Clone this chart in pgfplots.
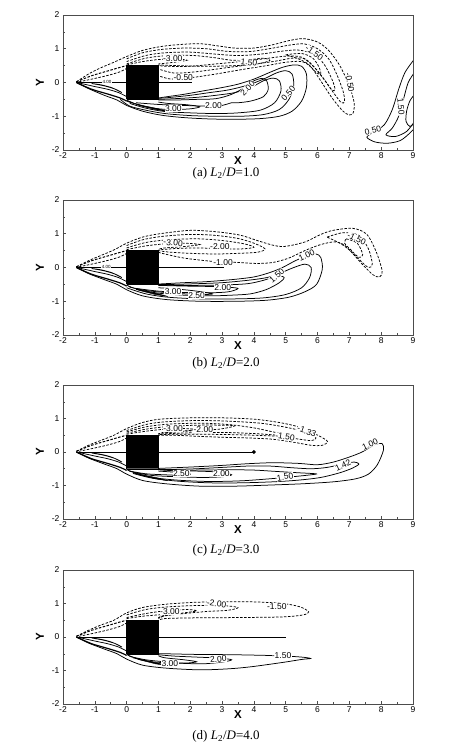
\documentclass[border=0pt]{standalone}
\usepackage{fontspec}
\setmainfont{Liberation Serif}
\newfontfamily\arial{Liberation Sans}
\usepackage{pgfplots}
\pgfplotsset{compat=1.18}
\tikzset{
  sol/.style={black, line width=0.75pt, smooth, mark=none},
  das/.style={black, line width=0.75pt, smooth, mark=none, dash pattern=on 2.5pt off 1.5pt},
  lab/.style={font=\arial\fontsize{8.5}{8.5}\selectfont, fill=white, inner sep=0.4pt},
}
\pgfplotsset{
  panel/.style={
    width=350pt, height=135pt, scale only axis,
    xmin=-2, xmax=9, ymin=-2, ymax=2,
    xtick={-2,-1,0,1,2,3,4,5,6,7,8,9}, ytick={-2,-1,0,1,2},
    minor x tick num=1, minor y tick num=1,
    tick align=inside, xtick pos=bottom, ytick pos=left,
    major tick length=3pt, minor tick length=2pt,
    axis line style={black!70, line width=0.6pt},
    tick style={black!70, line width=0.5pt},
    ticklabel style={font=\arial\fontsize{8.5}{9}\selectfont},
    /pgf/number format/assume math mode=true,
    xticklabel style={yshift=1pt},
    xlabel={X}, ylabel={Y},
    xlabel style={at={(axis description cs:0.5,0)}, anchor=center, yshift=-11pt, font=\arial\bfseries\fontsize{11.5}{12}\selectfont},
    ylabel style={at={(axis description cs:0,0.5)}, anchor=center, yshift=23pt, font=\arial\bfseries\fontsize{11.5}{12}\selectfont},
    anchor=south west,
  },
}
\newcommand{\capfont}{\fontsize{13}{14}\selectfont}
\begin{document}
\begin{tikzpicture}
\path[use as bounding box] (0,0) rectangle (456pt,748pt);

% ================= (a) =================
\begin{axis}[panel, at={(63pt,598pt)}]
% front
\addplot[black, line width=0.6pt] coordinates {(-1.55,0)(0,0)};
\addplot[sol, line width=1.2pt] coordinates {(-1.58,0)(-1.1,-0.2)(-0.6,-0.34)(-0.2,-0.46)(0,-0.55)};
\addplot[sol] coordinates {(-1.52,-0.01)(-1.0,-0.12)(-0.6,-0.2)(-0.25,-0.3)(0,-0.42)};
\addplot[sol] coordinates {(-1.1,-0.03)(-0.7,-0.1)(-0.35,-0.2)(-0.15,-0.3)(-0.45,-0.16)(-0.8,-0.07)(-1.1,-0.03)};
\addplot[das, line width=1pt] coordinates {(-1.58,0.02)(-1.1,0.2)(-0.6,0.34)(-0.2,0.45)(0,0.5)};
\addplot[das] coordinates {(-1.5,0.02)(-1.0,0.12)(-0.55,0.22)(-0.2,0.32)(0,0.42)};
% dashed (negative)
\addplot[das] coordinates {(-1.58,0.02)(-1.2,0.25)(-0.85,0.42)(-0.4,0.6)(0,0.77)(0.5,0.95)(1.04,1.06)(1.6,1.12)(2.3,1.15)(2.9,1.08)(3.4,1.02)(4.0,1.02)(4.6,1.12)(5.1,1.24)(5.55,1.3)(6.0,1.2)(6.35,0.95)(6.7,0.5)(7.0,-0.1)(7.15,-0.6)(7.12,-0.9)(7.0,-0.96)(6.8,-0.85)(6.45,-0.45)(6.1,0.05)(5.8,0.45)(5.5,0.62)(5.0,0.6)(4.4,0.5)(3.6,0.38)(2.8,0.25)(2.0,0.14)(1.4,0.1)(1.0,0.2)};
\addplot[das] coordinates {(0,0.7)(0.5,0.88)(1.1,0.98)(1.8,1.02)(2.5,1.0)(3.2,0.92)(3.9,0.92)(4.6,1.02)(5.2,1.12)(5.6,1.14)(6.0,1.0)(6.35,0.7)(6.6,0.25)(6.8,-0.25)(6.85,-0.55)(6.75,-0.6)(6.5,-0.3)(6.2,0.1)(5.9,0.45)(5.6,0.7)(5.2,0.72)(4.6,0.62)(3.8,0.52)(3.0,0.42)(2.2,0.32)(1.5,0.28)(1.0,0.4)};
\addplot[das] coordinates {(0,0.62)(0.6,0.8)(1.2,0.88)(2.0,0.9)(2.8,0.84)(3.5,0.8)(4.2,0.84)(4.9,0.93)(5.4,0.96)(5.85,0.85)(6.2,0.55)(6.45,0.1)(6.55,-0.2)(6.45,-0.22)(6.2,0.1)(5.9,0.45)(5.5,0.75)(5.0,0.78)(4.3,0.7)(3.6,0.62)(2.8,0.55)(2.0,0.48)(1.3,0.48)(1.0,0.5)};
\addplot[das] coordinates {(0,0.55)(0.6,0.72)(1.3,0.8)(2.1,0.8)(2.8,0.73)(3.3,0.66)(3.9,0.68)(4.3,0.72)(4.5,0.65)(4.1,0.55)(3.4,0.5)(2.5,0.48)(1.6,0.5)(1.0,0.52)};
\addplot[das] coordinates {(5.0,0.82)(5.5,0.86)(5.85,0.72)(6.05,0.45)(6.1,0.25)(5.95,0.3)(5.7,0.55)(5.4,0.7)(5.0,0.82)};
\addplot[das] coordinates {(0,0.52)(0.5,0.62)(1.0,0.68)(1.5,0.7)(1.9,0.66)(1.5,0.6)(1.0,0.55)};
% solid (positive)
\addplot[sol] coordinates {(-1.58,0)(-1.2,-0.18)(-0.7,-0.38)(-0.3,-0.52)(0,-0.68)(0.5,-0.85)(1.1,-0.97)(1.8,-1.04)(2.6,-1.08)(3.4,-1.09)(4.2,-1.07)(4.8,-1.0)(5.2,-0.85)(5.5,-0.55)(5.65,-0.15)(5.65,0.25)(5.5,0.48)(5.25,0.52)(4.9,0.45)(4.5,0.3)(4.0,0.1)(3.5,-0.05)(3.0,-0.15)(2.4,-0.25)(1.8,-0.35)(1.2,-0.43)(1.0,-0.46)};
\addplot[sol] coordinates {(-0.2,-0.5)(0.1,-0.7)(0.6,-0.82)(1.2,-0.92)(2.0,-0.98)(2.8,-1.0)(3.6,-1.0)(4.3,-0.95)(4.8,-0.8)(5.1,-0.5)(5.25,-0.1)(5.2,0.25)(5.0,0.35)(4.7,0.28)(4.3,0.1)(3.8,-0.08)(3.2,-0.22)(2.6,-0.3)(2.0,-0.38)(1.4,-0.44)(1.0,-0.47)};
\addplot[sol] coordinates {(0.1,-0.62)(0.6,-0.76)(1.2,-0.86)(2.0,-0.9)(2.8,-0.92)(3.5,-0.9)(4.2,-0.82)(4.65,-0.6)(4.85,-0.25)(4.8,0.05)(4.6,0.13)(4.3,0.05)(3.9,-0.15)(3.4,-0.3)(2.8,-0.38)(2.2,-0.44)(1.5,-0.48)(1.0,-0.5)};
\addplot[sol] coordinates {(0.3,-0.6)(1.0,-0.65)(1.8,-0.68)(2.5,-0.7)(3.0,-0.68)(3.3,-0.6)(3.5,-0.6)(3.9,-0.55)(4.3,-0.42)(4.45,-0.2)(4.4,0.05)(4.25,0.12)(4.0,0.05)(3.8,-0.1)(3.3,-0.35)(2.8,-0.48)(2.2,-0.5)(1.5,-0.52)(1.0,-0.52)};
\addplot[sol] coordinates {(0.0,-0.55)(0.5,-0.7)(1.0,-0.78)(1.5,-0.8)(2.0,-0.78)(2.3,-0.72)(1.9,-0.66)(1.3,-0.62)(1.0,-0.58)};
% right vortex
\addplot[sol] coordinates {(9.05,0.7)(8.75,0.3)(8.55,-0.2)(8.35,-0.8)(8.1,-1.25)(7.75,-1.48)(7.55,-1.62)(7.8,-1.76)(8.2,-1.8)(8.6,-1.72)(8.9,-1.5)(9.05,-1.35)};
\addplot[sol] coordinates {(9.05,0.3)(8.85,0)(8.7,-0.5)(8.55,-1.0)(8.35,-1.35)(8.15,-1.55)(8.45,-1.6)(8.8,-1.45)(9.05,-1.15)};
\addplot[sol] coordinates {(9.05,-0.35)(8.9,-0.55)(8.8,-0.85)(8.78,-1.15)(8.9,-1.3)(9.05,-1.2)};
% body
\addplot[fill=black, draw=black] coordinates {(0,-0.52)(0.4,-0.68)(0.9,-0.8)(1.3,-0.86)(1.0,-0.78)(0.5,-0.68)(0.1,-0.58)(0,-0.52)};
\addplot[fill=black, draw=black] coordinates {(0,-0.5)(1,-0.5)(1,0.5)(0,0.5)(0,-0.5)};
\addplot[black, line width=0.6pt] coordinates {(1,0)(2.05,0)};
% labels
\node[lab] at (axis cs:1.45,0.72) {-3.00};
\node[lab, rotate=-8] at (axis cs:3.8,0.6) {-1.50};
\node[lab, rotate=-35] at (axis cs:5.9,0.88) {-1.50};
\node[lab, rotate=-80] at (axis cs:7.02,0.0) {-0.50};
\node[lab] at (axis cs:1.78,0.14) {-0.50};
\node[lab] at (axis cs:1.47,-0.76) {3.00};
\node[lab] at (axis cs:2.73,-0.67) {2.00};
\node[lab, rotate=45] at (axis cs:3.8,-0.17) {2.00};
\node[lab, rotate=50] at (axis cs:5.08,-0.32) {0.50};
\node[lab, rotate=15] at (axis cs:7.74,-1.42) {0.50};
\node[lab, rotate=-85] at (axis cs:8.62,-0.72) {1.50};
\node[lab, font=\arial\fontsize{4.5}{5}\selectfont] at (axis cs:-0.62,0.02) {4.00};
\end{axis}
\node[font=\capfont] at (226pt,575pt) {(a) \textit{L}\textsubscript{2}/\textit{D}=1.0};

% ================= (b) =================
\begin{axis}[panel, at={(63pt,413pt)}]
\addplot[black, line width=0.6pt] coordinates {(-1.55,0)(0,0)};
\addplot[sol, line width=1.2pt] coordinates {(-1.58,0)(-1.1,-0.2)(-0.6,-0.34)(-0.2,-0.46)(0,-0.55)};
\addplot[sol] coordinates {(-1.52,-0.01)(-1.0,-0.12)(-0.6,-0.2)(-0.25,-0.3)(0,-0.42)};
\addplot[sol] coordinates {(-1.1,-0.03)(-0.7,-0.1)(-0.35,-0.2)(-0.15,-0.3)(-0.45,-0.16)(-0.8,-0.07)(-1.1,-0.03)};
\addplot[das, line width=1pt] coordinates {(-1.58,0.02)(-1.1,0.2)(-0.6,0.34)(-0.2,0.45)(0,0.5)};
\addplot[das] coordinates {(-1.5,0.02)(-1.0,0.12)(-0.55,0.22)(-0.2,0.32)(0,0.42)};
% dashed
\addplot[das] coordinates {(-1.58,0.02)(-1.2,0.2)(-0.85,0.34)(-0.4,0.52)(0,0.72)(0.5,0.9)(1.04,1.0)(1.99,1.1)(2.8,1.06)(3.56,0.96)(4.1,0.8)(4.6,0.66)(4.91,0.62)(5.3,0.68)(5.67,0.78)(6.1,0.98)(6.49,1.1)(7.11,1.16)(7.55,0.98)(7.85,0.45)(8.03,-0.1)(7.95,-0.28)(7.75,-0.22)(7.45,0.05)(7.1,0.42)(6.85,0.66)(6.55,0.76)(6.1,0.68)(5.6,0.5)(5.1,0.28)(4.6,0.15)(4.1,0.12)(3.5,0.15)(3.0,0.16)(2.5,0.2)(1.8,0.28)(1.2,0.4)(1.0,0.45)};
\addplot[das] coordinates {(6.3,0.9)(6.8,1.03)(7.3,0.95)(7.6,0.55)(7.72,0.1)(7.6,0.0)(7.35,0.2)(7.0,0.52)(6.7,0.72)(6.3,0.9)};
\addplot[das] coordinates {(6.9,0.85)(7.25,0.72)(7.42,0.38)(7.3,0.3)(7.05,0.52)(6.85,0.72)(6.9,0.85)};
\addplot[das] coordinates {(0,0.65)(0.5,0.82)(1.1,0.92)(2.0,0.98)(2.8,0.95)(3.5,0.86)(4.0,0.72)(4.35,0.55)(4.1,0.45)(3.5,0.42)(2.8,0.4)(2.0,0.42)(1.3,0.46)(1,0.5)};
\addplot[das] coordinates {(0,0.58)(0.6,0.74)(1.3,0.82)(2.2,0.85)(3.0,0.8)(3.7,0.7)(4.0,0.6)(3.6,0.55)(2.9,0.56)(2.2,0.58)(1.5,0.56)(1,0.52)};
\addplot[das] coordinates {(0,0.53)(0.6,0.64)(1.2,0.7)(1.8,0.72)(2.3,0.68)(1.8,0.62)(1.2,0.58)(1,0.54)};
% solid
\addplot[sol] coordinates {(-1.58,0)(-1.2,-0.18)(-0.7,-0.36)(-0.3,-0.5)(0,-0.66)(0.5,-0.84)(1.25,-0.95)(2.3,-1.0)(3.5,-1.0)(4.4,-0.97)(5.1,-0.88)(5.6,-0.72)(5.97,-0.5)(6.15,-0.05)(6.1,0.3)(5.95,0.4)(5.7,0.36)(5.3,0.2)(4.9,0.0)(4.5,-0.15)(4.0,-0.28)(3.3,-0.36)(2.5,-0.42)(1.8,-0.45)(1.2,-0.48)(1.0,-0.49)};
\addplot[sol] coordinates {(0,-0.6)(0.6,-0.78)(1.3,-0.88)(2.3,-0.93)(3.4,-0.93)(4.3,-0.9)(5.0,-0.8)(5.5,-0.6)(5.75,-0.3)(5.8,0.0)(5.6,0.1)(5.2,-0.02)(4.8,-0.18)(4.4,-0.3)(3.8,-0.38)(3.0,-0.45)(2.2,-0.48)(1.5,-0.5)(1,-0.5)};
\addplot[sol] coordinates {(0.3,-0.65)(1.0,-0.76)(1.8,-0.82)(2.6,-0.84)(3.3,-0.82)(3.9,-0.78)(4.4,-0.65)(4.8,-0.45)(4.95,-0.3)(4.75,-0.25)(4.3,-0.38)(3.8,-0.48)(3.0,-0.52)(2.2,-0.53)(1.5,-0.53)(1,-0.52)};
\addplot[sol] coordinates {(0.3,-0.62)(1.0,-0.7)(1.8,-0.74)(2.6,-0.75)(3.2,-0.72)(3.5,-0.62)(3.1,-0.58)(2.5,-0.56)(1.8,-0.55)(1,-0.53)};
\addplot[sol] coordinates {(0.1,-0.58)(0.6,-0.68)(1.2,-0.74)(1.8,-0.78)(2.4,-0.8)(2.7,-0.78)(2.2,-0.7)(1.6,-0.64)(1.0,-0.6)};
\addplot[fill=black, draw=black] coordinates {(0,-0.52)(0.4,-0.68)(0.9,-0.8)(1.3,-0.86)(1.0,-0.78)(0.5,-0.68)(0.1,-0.58)(0,-0.52)};
\addplot[fill=black, draw=black] coordinates {(0,-0.5)(1,-0.5)(1,0.5)(0,0.5)(0,-0.5)};
\addplot[black, line width=0.6pt] coordinates {(1,0)(3.05,0)};
\node[lab, rotate=-5] at (axis cs:1.46,0.73) {-3.00};
\node[lab] at (axis cs:2.93,0.61) {-2.00};
\node[lab] at (axis cs:3.03,0.16) {-1.00};
\node[lab, rotate=-25] at (axis cs:7.23,0.86) {-1.50};
\node[lab, rotate=25] at (axis cs:5.66,0.37) {1.00};
\node[lab, rotate=40] at (axis cs:4.72,-0.24) {1.50};
\node[lab] at (axis cs:3.02,-0.6) {2.00};
\node[lab] at (axis cs:1.46,-0.7) {3.00};
\node[lab] at (axis cs:2.2,-0.83) {2.50};
\node[lab, font=\arial\fontsize{4.5}{5}\selectfont] at (axis cs:-0.64,0.02) {4.00};
\end{axis}
\node[font=\capfont] at (226pt,385pt) {(b) \textit{L}\textsubscript{2}/\textit{D}=2.0};

% ================= (c) =================
\begin{axis}[panel, height=134pt, at={(63pt,229pt)}]
\addplot[black, line width=0.6pt] coordinates {(-1.55,0)(0,0)};
\addplot[sol, line width=1.2pt] coordinates {(-1.58,0)(-1.1,-0.2)(-0.6,-0.34)(-0.2,-0.46)(0,-0.55)};
\addplot[sol] coordinates {(-1.52,-0.01)(-1.0,-0.12)(-0.6,-0.2)(-0.25,-0.3)(0,-0.42)};
\addplot[sol] coordinates {(-1.1,-0.03)(-0.7,-0.1)(-0.35,-0.2)(-0.15,-0.3)(-0.45,-0.16)(-0.8,-0.07)(-1.1,-0.03)};
\addplot[das, line width=1pt] coordinates {(-1.58,0.02)(-1.1,0.2)(-0.6,0.34)(-0.2,0.45)(0,0.5)};
\addplot[das] coordinates {(-1.5,0.02)(-1.0,0.12)(-0.55,0.22)(-0.2,0.32)(0,0.42)};
% dashed
\addplot[das] coordinates {(-1.58,0.02)(-1.2,0.2)(-0.8,0.35)(-0.4,0.5)(0,0.7)(0.5,0.88)(1.04,0.98)(2.0,1.02)(3.0,1.02)(4.0,0.98)(4.8,0.88)(5.4,0.75)(5.9,0.55)(6.2,0.4)(6.32,0.3)(6.15,0.2)(5.8,0.2)(5.2,0.3)(4.6,0.38)(3.8,0.42)(3.0,0.44)(2.2,0.47)(1.5,0.5)(1,0.5)};
\addplot[das] coordinates {(0,0.64)(0.6,0.82)(1.2,0.9)(2.2,0.94)(3.2,0.92)(4.2,0.86)(5.0,0.74)(5.6,0.6)(5.95,0.42)(5.8,0.34)(5.3,0.4)(4.7,0.47)(4.0,0.5)(3.2,0.52)(2.4,0.53)(1.6,0.53)(1,0.52)};
\addplot[das] coordinates {(0,0.6)(0.6,0.75)(1.3,0.83)(2.3,0.86)(3.2,0.82)(4.0,0.72)(4.6,0.6)(5.2,0.48)(4.8,0.5)(4.0,0.55)(3.2,0.58)(2.4,0.58)(1.6,0.56)(1,0.53)};
\addplot[das] coordinates {(0,0.56)(0.6,0.68)(1.3,0.76)(2.2,0.8)(3.0,0.8)(3.4,0.78)(2.9,0.68)(2.0,0.63)(1.4,0.59)(1,0.55)};
\addplot[das] coordinates {(0,0.53)(0.6,0.62)(1.2,0.68)(1.8,0.7)(2.2,0.67)(1.7,0.62)(1.1,0.58)};
% solid
\addplot[sol] coordinates {(-1.58,0)(-1.2,-0.18)(-0.7,-0.36)(-0.3,-0.5)(0,-0.66)(0.5,-0.85)(1.25,-0.95)(2.3,-1.02)(3.4,-1.02)(4.4,-0.99)(5.5,-0.95)(6.5,-0.89)(7.2,-0.8)(7.6,-0.66)(7.88,-0.38)(8.07,0.05)(8.03,0.25)(7.8,0.22)(7.4,0.0)(7.0,-0.15)(6.5,-0.3)(6.0,-0.38)(5.4,-0.34)(4.6,-0.32)(3.8,-0.35)(3.0,-0.4)(2.2,-0.44)(1.5,-0.47)(1,-0.49)};
\addplot[sol] coordinates {(0.2,-0.64)(0.8,-0.78)(1.6,-0.87)(2.6,-0.92)(3.6,-0.92)(4.6,-0.89)(5.4,-0.84)(6.1,-0.76)(6.7,-0.62)(7.1,-0.48)(7.3,-0.36)(7.15,-0.3)(6.8,-0.36)(6.3,-0.46)(5.8,-0.5)(5.2,-0.47)(4.5,-0.42)(3.8,-0.42)(3.0,-0.46)(2.2,-0.5)(1.5,-0.52)(1,-0.52)};
\addplot[sol] coordinates {(0.2,-0.62)(0.8,-0.76)(1.6,-0.84)(2.6,-0.88)(3.6,-0.86)(4.5,-0.8)(5.2,-0.74)(5.8,-0.68)(5.95,-0.65)(5.4,-0.62)(4.7,-0.58)(4.0,-0.54)(3.2,-0.53)(2.4,-0.54)(1.6,-0.54)(1,-0.52)};
\addplot[sol] coordinates {(0.2,-0.6)(0.8,-0.7)(1.6,-0.74)(2.4,-0.76)(3.0,-0.74)(3.3,-0.68)(2.9,-0.6)(2.2,-0.57)(1.5,-0.56)(1,-0.53)};
\addplot[sol] coordinates {(0.1,-0.57)(0.6,-0.65)(1.2,-0.68)(1.8,-0.7)(2.0,-0.66)(1.6,-0.61)(1.0,-0.57)};
\addplot[fill=black, draw=black] coordinates {(0,-0.52)(0.4,-0.68)(0.9,-0.8)(1.3,-0.86)(1.0,-0.78)(0.5,-0.68)(0.1,-0.58)(0,-0.52)};
\addplot[fill=black, draw=black] coordinates {(0,-0.5)(1,-0.5)(1,0.5)(0,0.5)(0,-0.5)};
\addplot[black, line width=0.6pt, mark=*, mark size=1.6pt, mark indices={2}] coordinates {(1,0)(4,0)};
\node[lab] at (axis cs:1.46,0.71) {-3.00};
\node[lab] at (axis cs:2.41,0.66) {-2.00};
\node[lab, rotate=-20] at (axis cs:5.66,0.62) {-1.33};
\node[lab, rotate=-8] at (axis cs:4.98,0.45) {-1.50};
\node[lab, rotate=25] at (axis cs:7.65,0.24) {1.00};
\node[lab, rotate=25] at (axis cs:6.8,-0.4) {1.42};
\node[lab, rotate=10] at (axis cs:4.98,-0.74) {1.50};
\node[lab] at (axis cs:1.72,-0.64) {2.50};
\node[lab] at (axis cs:2.98,-0.64) {2.00};
\end{axis}
\node[font=\capfont] at (226pt,198pt) {(c) \textit{L}\textsubscript{2}/\textit{D}=3.0};

% ================= (d) =================
\begin{axis}[panel, height=134pt, at={(63pt,44pt)}]
\addplot[black, line width=0.6pt] coordinates {(-1.55,0)(0,0)};
\addplot[sol, line width=1.2pt] coordinates {(-1.58,0)(-1.1,-0.2)(-0.6,-0.34)(-0.2,-0.46)(0,-0.55)};
\addplot[sol] coordinates {(-1.52,-0.01)(-1.0,-0.12)(-0.6,-0.2)(-0.25,-0.3)(0,-0.42)};
\addplot[sol] coordinates {(-1.1,-0.03)(-0.7,-0.1)(-0.35,-0.2)(-0.15,-0.3)(-0.45,-0.16)(-0.8,-0.07)(-1.1,-0.03)};
\addplot[das, line width=1pt] coordinates {(-1.58,0.02)(-1.1,0.2)(-0.6,0.34)(-0.2,0.45)(0,0.5)};
\addplot[das] coordinates {(-1.5,0.02)(-1.0,0.12)(-0.55,0.22)(-0.2,0.32)(0,0.42)};
% dashed
\addplot[das] coordinates {(-1.58,0.02)(-1.2,0.2)(-0.8,0.36)(-0.4,0.5)(0,0.72)(0.5,0.88)(1.25,0.98)(2.3,1.04)(3.9,1.05)(4.9,1.0)(5.45,0.9)(5.72,0.75)(5.55,0.66)(4.9,0.6)(3.4,0.58)(2.0,0.57)(1.2,0.55)(1,0.5)};
\addplot[das] coordinates {(0,0.66)(0.6,0.82)(1.3,0.9)(2.2,0.94)(3.0,0.94)(3.5,0.88)(3.2,0.8)(2.5,0.76)(1.8,0.7)(1.2,0.63)(1,0.55)};
\addplot[das] coordinates {(0,0.58)(0.6,0.7)(1.2,0.78)(1.9,0.82)(2.2,0.78)(1.8,0.72)(1.2,0.64)(1,0.58)};
\addplot[das] coordinates {(0,0.55)(0.5,0.62)(1.0,0.66)(1.4,0.68)(1.1,0.62)(1,0.57)};
% solid
\addplot[sol] coordinates {(-1.58,0)(-1.2,-0.18)(-0.7,-0.36)(-0.3,-0.5)(0,-0.66)(0.5,-0.84)(1.25,-0.93)(2.3,-0.98)(3.2,-0.95)(3.9,-0.89)(4.9,-0.76)(5.5,-0.67)(5.78,-0.64)(5.5,-0.6)(4.8,-0.56)(3.4,-0.53)(2.2,-0.52)(1.2,-0.5)(1,-0.5)};
\addplot[sol] coordinates {(0.2,-0.62)(0.8,-0.74)(1.6,-0.78)(2.4,-0.8)(3.0,-0.75)(3.3,-0.68)(2.9,-0.63)(2.2,-0.6)(1.5,-0.57)(1,-0.53)};
\addplot[sol] coordinates {(0.1,-0.58)(0.6,-0.68)(1.2,-0.74)(1.8,-0.78)(2.2,-0.74)(1.8,-0.68)(1.2,-0.62)(1,-0.56)};
\addplot[fill=black, draw=black] coordinates {(0,-0.52)(0.4,-0.68)(0.9,-0.8)(1.3,-0.86)(1.0,-0.78)(0.5,-0.68)(0.1,-0.58)(0,-0.52)};
\addplot[fill=black, draw=black] coordinates {(0,-0.5)(1,-0.5)(1,0.5)(0,0.5)(0,-0.5)};
\addplot[black, line width=0.6pt] coordinates {(1,0)(5,0)};
\node[lab] at (axis cs:1.36,0.76) {-3.00};
\node[lab, rotate=-8] at (axis cs:2.83,1.0) {-2.00};
\node[lab] at (axis cs:4.72,0.92) {-1.50};
\node[lab] at (axis cs:4.87,-0.56) {-1.50};
\node[lab, rotate=5] at (axis cs:2.88,-0.66) {2.00};
\node[lab] at (axis cs:1.36,-0.8) {3.00};
\end{axis}
\node[font=\capfont] at (226pt,12pt) {(d) \textit{L}\textsubscript{2}/\textit{D}=4.0};
\end{tikzpicture}
\end{document}
